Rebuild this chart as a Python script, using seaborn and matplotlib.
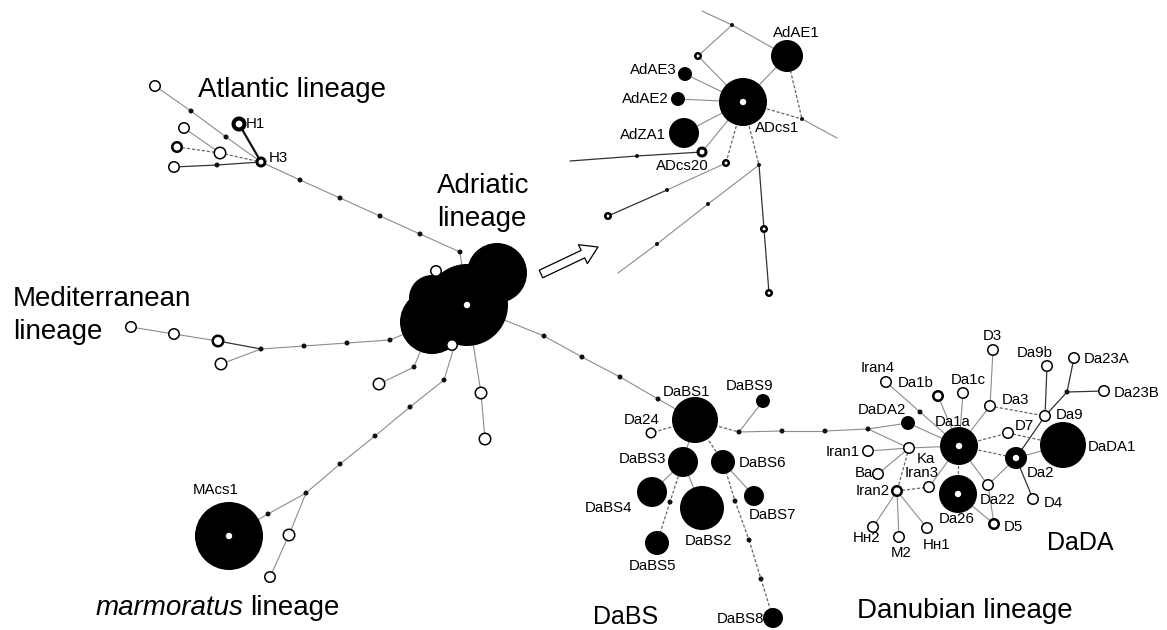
import matplotlib
matplotlib.use("Agg")
import numpy as np
import pandas as pd
import matplotlib.pyplot as plt
import seaborn as sns

# ==========================================================
# HAPLOTYPE NETWORK DATA (positions, in pixels)
# kind: hap = sampled haplotype, core = haplotype with white centre,
#       ring = small thick ring, open = unsampled/other, med = median vector
# ==========================================================

atlantic_nodes = [
    ("A_o1", 155, 86, "open", 6), ("A_m1", 191, 111, "med", 2.5), ("A_m2", 226, 137, "med", 2.5),
    ("H3", 261, 162, "ring", 5.5), ("H1", 239, 124, "ring", 7.5),
    ("A_o2", 184, 128, "open", 6), ("A_o3", 177, 147, "open2", 6), ("A_o4", 220, 153, "open", 6.5),
    ("A_o5", 174, 167, "open", 6), ("A_m3", 217, 165, "med", 2.5),
    ("A_m4", 300, 180, "med", 2.5), ("A_m5", 340, 198, "med", 2.5), ("A_m6", 380, 216, "med", 2.5),
    ("A_m7", 420, 234, "med", 2.5), ("A_m8", 460, 252, "med", 2.5),
]

adriatic_nodes = [
    ("B1", 497, 273, "hap", 30), ("B2", 467, 305, "core", 41), ("B3", 432, 322, "hap", 32),
    ("B4", 432, 298, "hap", 23), ("B_o1", 436, 271, "open", 6), ("B_o2", 452, 345, "open", 6),
]

mediterranean_nodes = [
    ("M_o1", 131, 327, "open", 6), ("M_o2", 174, 334, "open", 6), ("M_o3", 218, 341, "open2", 6.5),
    ("M_o4", 221, 364, "open", 6.5), ("M_m1", 261, 349, "med", 2.5), ("M_m2", 304, 346, "med", 2.5),
    ("M_m3", 347, 343, "med", 2.5), ("M_m4", 390, 340, "med", 2.5),
]

marmoratus_nodes = [
    ("L_m1", 414, 367, "med", 2.5), ("L_o1", 379, 384, "open", 6.5), ("L_m2", 444, 380, "med", 2.5),
    ("L_m3", 410, 407, "med", 2.5), ("L_m4", 375, 436, "med", 2.5), ("L_m5", 340, 464, "med", 2.5),
    ("L_m6", 306, 493, "med", 2.5), ("L_m7", 268, 514, "med", 2.5), ("L_o2", 289, 535, "open", 6.5),
    ("L_o3", 270, 577, "open", 6), ("MAcs1", 229, 536, "core", 34),
    ("V_o1", 481, 393, "open", 6.5), ("V_o2", 485, 439, "open", 6.5),
]

dabs_nodes = [
    ("D_m1", 544, 336, "med", 2.5), ("D_m2", 582, 357, "med", 2.5), ("D_m3", 620, 377, "med", 2.5),
    ("D_m4", 658, 399, "med", 2.5),
    ("DaBS1", 695, 420, "hap", 23), ("Da24", 651, 433, "open", 5.5), ("DaBS3", 683, 462, "hap", 15),
    ("DaBS6", 723, 462, "hap", 12), ("DaBS4", 652, 492, "hap", 15), ("DaBS2", 702, 508, "hap", 22),
    ("DaBS5", 657, 543, "hap", 12), ("S_m1", 670, 502, "med", 2.5), ("DaBS7", 754, 496, "hap", 10),
    ("DaBS9", 763, 401, "hap", 7), ("S_m2", 739, 432, "med", 2.5), ("S_m3", 782, 431, "med", 2.5),
    ("S_m4", 825, 431, "med", 2.5), ("S_m5", 868, 429, "med", 2.5), ("S_m6", 735, 501, "med", 2.5),
    ("S_m7", 749, 540, "med", 2.5), ("S_m8", 761, 579, "med", 2.5), ("DaBS8", 773, 618, "hap", 10),
]

dada_nodes = [
    ("DaDA2", 908, 423, "hap", 7), ("N_m1", 920, 412, "med", 2.5), ("Iran4", 886, 382, "open", 6),
    ("Da1b", 938, 396, "open2", 6), ("Da1c", 963, 393, "open", 6), ("D3", 993, 350, "open", 6),
    ("Da3", 990, 406, "open", 6), ("Da9", 1045, 416, "open", 6), ("Da9b", 1047, 366, "open", 6),
    ("Da23A", 1074, 358, "open", 6), ("N_m2", 1067, 392, "med", 2.5), ("Da23B", 1104, 391, "open", 6),
    ("DaDA1", 1063, 445, "hap", 23), ("D7", 1008, 433, "open", 6), ("Da2", 1016, 458, "core", 11),
    ("Da1a", 959, 446, "core", 19), ("Da26", 958, 494, "core", 19), ("Ka", 909, 448, "open", 6),
    ("Iran1", 868, 451, "open", 6), ("Ba", 878, 474, "open", 6), ("Iran3", 929, 487, "open", 6),
    ("Iran2", 897, 491, "open2", 6), ("HH2", 873, 527, "open", 6), ("M2", 899, 537, "open", 6),
    ("HH1", 927, 528, "open", 6), ("Da22", 988, 485, "open", 6), ("D5", 994, 524, "open2", 6),
    ("D4", 1033, 499, "open", 6),
]

inset_nodes = [
    ("ADcs1", 743, 102, "core", 24), ("AdAE1", 787, 56, "hap", 16), ("AdAE3", 685, 74, "hap", 7),
    ("AdAE2", 678, 99, "hap", 7), ("AdZA1", 684, 133, "hap", 15), ("ADcs20", 702, 152, "ring", 5.5),
    ("I_o1", 698, 56, "open2", 4), ("I_m1", 732, 25, "med", 2), ("I_end1", 702, 11, "end", 0),
    ("I_m2", 802, 119, "med", 2), ("I_end2", 837, 138, "end", 0), ("I_end3", 570, 161, "end", 0),
    ("I_m3", 637, 156, "med", 2), ("I_o2", 726, 163, "open2", 4), ("I_m4", 667, 190, "med", 2),
    ("I_o3", 608, 216, "open2", 4), ("I_m5", 759, 165, "med", 2), ("I_m6", 708, 204, "med", 2),
    ("I_m7", 657, 244, "med", 2), ("I_end4", 618, 273, "end", 0), ("I_o4", 764, 229, "open2", 4),
    ("I_o5", 769, 293, "open2", 4),
]

# edges: (from, to, tone) tone: l = light grey, d = dark, k = dashed, t = thick black
edges = [
    # Atlantic
    ("A_o1", "A_m1", "l"), ("A_m1", "A_m2", "l"), ("A_m2", "H3", "l"), ("A_o2", "A_o4", "l"),
    ("A_o3", "A_o4", "k"), ("A_o4", "H3", "k"), ("A_o5", "A_m3", "d"), ("A_m3", "H3", "d"),
    ("H1", "H3", "t"), ("H3", "A_m4", "l"), ("A_m4", "A_m5", "l"), ("A_m5", "A_m6", "l"),
    ("A_m6", "A_m7", "l"), ("A_m7", "A_m8", "l"), ("A_m8", "B2", "l"),
    # Mediterranean
    ("M_o1", "M_o2", "l"), ("M_o2", "M_o3", "l"), ("M_o3", "M_m1", "d"), ("M_o4", "M_m1", "l"),
    ("M_m1", "M_m2", "l"), ("M_m2", "M_m3", "l"), ("M_m3", "M_m4", "l"), ("M_m4", "B3", "l"),
    # marmoratus and lower branches
    ("B3", "L_m1", "l"), ("L_m1", "L_o1", "l"), ("B2", "L_m2", "l"), ("L_m2", "L_m3", "l"),
    ("L_m3", "L_m4", "l"), ("L_m4", "L_m5", "l"), ("L_m5", "L_m6", "l"), ("L_m6", "L_m7", "l"),
    ("L_m7", "MAcs1", "l"), ("L_m6", "L_o2", "l"), ("L_o2", "L_o3", "l"), ("B2", "V_o1", "l"),
    ("V_o1", "V_o2", "l"),
    # DaBS
    ("B2", "D_m1", "l"), ("D_m1", "D_m2", "l"), ("D_m2", "D_m3", "l"), ("D_m3", "D_m4", "l"),
    ("D_m4", "DaBS1", "l"), ("DaBS1", "Da24", "k"), ("DaBS1", "DaBS3", "l"), ("DaBS1", "DaBS6", "k"),
    ("DaBS3", "DaBS4", "l"), ("DaBS3", "DaBS2", "l"), ("DaBS3", "S_m1", "k"), ("S_m1", "DaBS5", "k"),
    ("DaBS6", "DaBS7", "l"), ("DaBS6", "S_m6", "k"), ("S_m6", "S_m7", "k"), ("S_m7", "S_m8", "k"),
    ("S_m8", "DaBS8", "k"), ("DaBS1", "S_m2", "k"), ("S_m2", "DaBS9", "l"), ("S_m2", "S_m3", "l"),
    ("S_m3", "S_m4", "l"), ("S_m4", "S_m5", "l"),
    # DaDA
    ("S_m5", "DaDA2", "l"), ("S_m5", "Ka", "l"), ("DaDA2", "Da1a", "l"), ("Iran4", "N_m1", "l"),
    ("N_m1", "Da1a", "l"), ("Da1b", "Da1a", "l"), ("Da1c", "Da1a", "l"), ("Da3", "Da1a", "l"),
    ("D3", "Da3", "l"), ("Da3", "Da9", "k"), ("Da9b", "Da9", "d"), ("Da9", "N_m2", "d"),
    ("N_m2", "Da23A", "d"), ("N_m2", "Da23B", "d"), ("Da9", "Da2", "d"), ("D7", "DaDA1", "k"),
    ("Da1a", "D7", "k"), ("Da1a", "Da2", "k"), ("Da2", "DaDA1", "l"), ("Da2", "D4", "d"),
    ("Da2", "Da22", "l"), ("Da1a", "Da22", "l"), ("Da1a", "Da26", "k"), ("Da26", "D5", "l"),
    ("Da22", "D5", "l"), ("Da1a", "Ka", "l"), ("Ka", "Iran1", "l"), ("Ka", "Ba", "l"),
    ("Ka", "Iran2", "k"), ("Da1a", "Iran3", "l"), ("Iran2", "Iran3", "k"), ("Iran2", "HH2", "l"),
    ("Iran2", "M2", "l"), ("Iran2", "HH1", "l"),
    # Adriatic inset
    ("I_end1", "I_m1", "l"), ("I_m1", "AdAE1", "l"), ("I_m1", "I_o1", "l"), ("I_o1", "ADcs1", "l"),
    ("AdAE1", "ADcs1", "l"), ("AdAE1", "I_m2", "k"), ("ADcs1", "I_m2", "k"), ("I_m2", "I_end2", "l"),
    ("AdAE3", "ADcs1", "l"), ("AdAE2", "ADcs1", "l"), ("AdZA1", "ADcs1", "l"), ("ADcs20", "ADcs1", "l"),
    ("I_end3", "I_m3", "d"), ("I_m3", "ADcs20", "d"), ("ADcs1", "I_o2", "k"), ("I_o2", "I_m4", "l"),
    ("I_m4", "I_o3", "d"), ("ADcs1", "I_m5", "k"), ("I_m5", "I_m6", "l"), ("I_m6", "I_m7", "l"),
    ("I_m7", "I_end4", "l"), ("I_m5", "I_o4", "d"), ("I_o4", "I_o5", "d"),
]

haplotype_labels = [
    ("H1", 246, 124, "left"), ("H3", 269, 158, "left"), ("MAcs1", 216, 490, "center"),
    ("AdAE1", 796, 33, "center"), ("AdAE3", 653, 70, "center"), ("AdAE2", 645, 99, "center"),
    ("AdZA1", 643, 135, "center"), ("ADcs1", 777, 128, "center"), ("ADcs20", 682, 166, "center"),
    ("DaBS1", 687, 392, "center"), ("Da24", 642, 420, "center"), ("DaBS3", 642, 459, "center"),
    ("DaBS6", 763, 463, "center"), ("DaBS4", 608, 508, "center"), ("DaBS2", 708, 541, "center"),
    ("DaBS5", 653, 566, "center"), ("DaBS7", 773, 515, "center"), ("DaBS9", 750, 386, "center"),
    ("DaBS8", 740, 619, "center"),
    ("DaDA2", 882, 410, "center"), ("Iran4", 878, 368, "center"), ("Da1b", 916, 383, "center"),
    ("Da1c", 968, 380, "center"), ("D3", 992, 336, "center"), ("Da3", 1015, 400, "center"),
    ("Da9", 1070, 415, "center"), ("Da9b", 1035, 353, "center"), ("Da23A", 1107, 359, "center"),
    ("Da23B", 1137, 393, "center"), ("DaDA1", 1112, 447, "center"), ("D7", 1024, 426, "center"),
    ("Da2", 1040, 473, "center"), ("Da1a", 953, 422, "center"), ("Da26", 957, 519, "center"),
    ("Ka", 926, 459, "center"), ("Iran1", 843, 452, "center"), ("Ba", 864, 473, "center"),
    ("Iran3", 922, 473, "center"), ("Iran2", 873, 491, "center"), ("H\u029c2", 867, 538, "center"),
    ("M2", 901, 553, "center"), ("H\u029c1", 937, 545, "center"), ("Da22", 998, 500, "center"),
    ("D5", 1013, 527, "center"), ("D4", 1053, 503, "center"),
]

# lineage titles: text, left x, baseline y, fontsize
lineage_labels = [
    ("Atlantic lineage", 198, 97, 20), ("Adriatic", 437, 193, 20),
    ("lineage", 437, 226, 20), ("Mediterranean", 13, 306, 20),
    ("lineage", 13, 339, 20), ("DaBS", 593, 624, 18),
    ("Danubian lineage", 857, 618, 20), ("DaDA", 1047, 550, 18),
]

# ==========================================================
# BUILD TABLES
# ==========================================================

all_nodes = (atlantic_nodes + adriatic_nodes + mediterranean_nodes + marmoratus_nodes
             + dabs_nodes + dada_nodes + inset_nodes)
nodes = pd.DataFrame(all_nodes, columns=["name", "x", "y", "kind", "r"])
pos = nodes.set_index("name")[["x", "y"]]

edge_rows = []
for i, (a, b, tone) in enumerate(edges):
    for n in (a, b):
        edge_rows.append({"edge": i, "x": pos.loc[n, "x"], "y": pos.loc[n, "y"], "tone": tone})
edge_df = pd.DataFrame(edge_rows)

DPI = 100


def diam_pt(r_px, lw=0.0):
    return 2 * r_px * 72 / DPI - lw


# ==========================================================
# PLOT
# ==========================================================

sns.set_theme(style="white")
plt.rcParams["font.family"] = ["Liberation Sans", "DejaVu Sans"]

fig = plt.figure(figsize=(11.67, 6.3), dpi=DPI)
ax = fig.add_axes([0, 0, 1, 1])
ax.set_xlim(0, 1167)
ax.set_ylim(630, 0)

tone_styles = {
    "l": dict(color="#8c8c8c", linewidth=0.8, linestyle="-"),
    "d": dict(color="#333333", linewidth=0.9, linestyle="-"),
    "k": dict(color="#666666", linewidth=0.9, linestyle=(0, (2.5, 1.5))),
    "t": dict(color="#111111", linewidth=1.6, linestyle="-"),
}
for tone, sub in edge_df.groupby("tone"):
    sns.lineplot(data=sub, x="x", y="y", units="edge", estimator=None, sort=False,
                 ax=ax, legend=False, **tone_styles[tone])

# filled haplotypes
filled = nodes[nodes["kind"].isin(["hap", "core", "ring"])]
sns.scatterplot(data=filled, x="x", y="y", s=diam_pt(filled["r"]) ** 2,
                color="black", edgecolor="none", linewidth=0, zorder=3, ax=ax, legend=False)

# open haplotypes
for kind, lw in [("open", 1.1), ("open2", 1.8)]:
    sub = nodes[nodes["kind"] == kind]
    sns.scatterplot(data=sub, x="x", y="y", s=diam_pt(sub["r"], lw) ** 2,
                    color="white", edgecolor="black", linewidth=lw, zorder=4, ax=ax, legend=False)

# median vectors
med = nodes[nodes["kind"] == "med"]
sns.scatterplot(data=med, x="x", y="y", s=diam_pt(med["r"]) ** 2,
                color="#111111", edgecolor="none", linewidth=0, zorder=4, ax=ax, legend=False)

# white centres
core = nodes[nodes["kind"] == "core"]
sns.scatterplot(data=core, x="x", y="y", s=diam_pt(np.full(len(core), 3.2)) ** 2,
                color="white", edgecolor="none", linewidth=0, zorder=5, ax=ax, legend=False)
ring = nodes[nodes["kind"] == "ring"]
sns.scatterplot(data=ring, x="x", y="y", s=diam_pt(ring["r"] * 0.45) ** 2,
                color="white", edgecolor="none", linewidth=0, zorder=5, ax=ax, legend=False)

for text, x, y, ha in haplotype_labels:
    ax.text(x, y, text, fontsize=10.8, ha=ha, va="center", color="black", zorder=6)

for text, x, y, size in lineage_labels:
    ax.text(x, y, text, fontsize=size, ha="left", va="baseline", color="black", zorder=6)

# "marmoratus lineage" with italic species name
marm = ax.text(96, 615, "marmoratus", fontsize=20, style="italic", ha="left",
               va="baseline", color="black", zorder=6)
fig.canvas.draw()
bb = marm.get_window_extent(renderer=fig.canvas.get_renderer())
x_end = ax.transData.inverted().transform((bb.x1, bb.y0))[0]
ax.text(x_end + 6, 615, "lineage", fontsize=20, ha="left", va="baseline", color="black", zorder=6)

# hollow arrow pointing to the Adriatic inset
ax.annotate("", xy=(598, 247), xytext=(541, 274),
            arrowprops=dict(arrowstyle="simple,head_length=0.6,head_width=0.75,tail_width=0.3",
                            fc="white", ec="black", lw=0.9, shrinkA=0, shrinkB=0,
                            mutation_scale=20))

ax.axis("off")

fig.savefig("out.png", dpi=DPI, facecolor="white")
